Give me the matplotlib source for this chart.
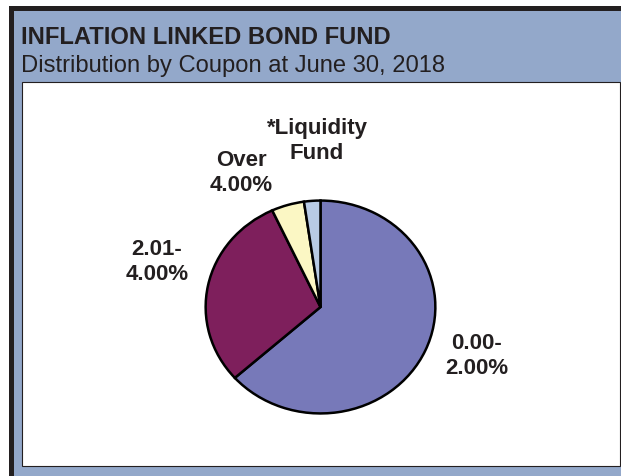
import matplotlib
matplotlib.use("Agg")
import matplotlib.pyplot as plt
from matplotlib.patches import Rectangle

W, H = 621, 477
categories = ["0.00-\n2.00%", "2.01-\n4.00%", "Over\n4.00%", "*Liquidity\nFund"]
values = [63.4, 29.7, 4.6, 2.3]
colors = ["#7779B9", "#7E1F5C", "#FBF7C4", "#B8CBE5"]
title = "INFLATION LINKED BOND FUND"
subtitle = "Distribution by Coupon at June 30, 2018"
label_pos = [(477, 356), (157, 262), (241, 173), (317, 141)]

plt.rcParams['font.family'] = ['Liberation Sans', 'DejaVu Sans']
fig = plt.figure(figsize=(W / 100, H / 100), dpi=100)
fig.patch.set_facecolor("white")

def fx(x):
    return x / W

def fy(y):
    return 1 - y / H

def rect(x0, y0, x1, y1, **kw):
    fig.patches.append(Rectangle((fx(x0), fy(y1)), fx(x1) - fx(x0), (y1 - y0) / H,
                                 transform=fig.transFigure, zorder=-5, **kw))

# outer frame
rect(9, 7, 621, 477, facecolor="#231F20", edgecolor="none")
rect(14, 12, 621, 477, facecolor="#93A8CA", edgecolor="none")
rect(22, 83, 619.5, 467, facecolor="white", edgecolor="#231F20", linewidth=0.8)

fig.text(fx(21), fy(44), title, fontsize=17.1, fontweight="bold", color="#231F20",
         ha="left", va="baseline")
fig.text(fx(21), fy(72.3), subtitle, fontsize=17.1, color="#231F20",
         ha="left", va="baseline")

cx, cy, rx, ry = 320.5, 308, 116, 107.5
ax = fig.add_axes([fx(cx - rx), fy(cy + ry), 2 * rx / W, 2 * ry / H])
ax.set_zorder(5)
ax.pie(values, colors=colors, startangle=90, counterclock=False,
       wedgeprops=dict(edgecolor="black", linewidth=1.8))
ax.set_xlim(-1.01, 1.01)
ax.set_ylim(-1.01, 1.01)
ax.set_aspect("auto")
ax.axis("off")

for lab, (x, y) in zip(categories, label_pos):
    fig.text(fx(x), fy(y), lab, fontsize=16, fontweight="bold", color="#231F20",
             ha="center", va="center", linespacing=1.2, zorder=6)

fig.savefig("out.png", dpi=100)
